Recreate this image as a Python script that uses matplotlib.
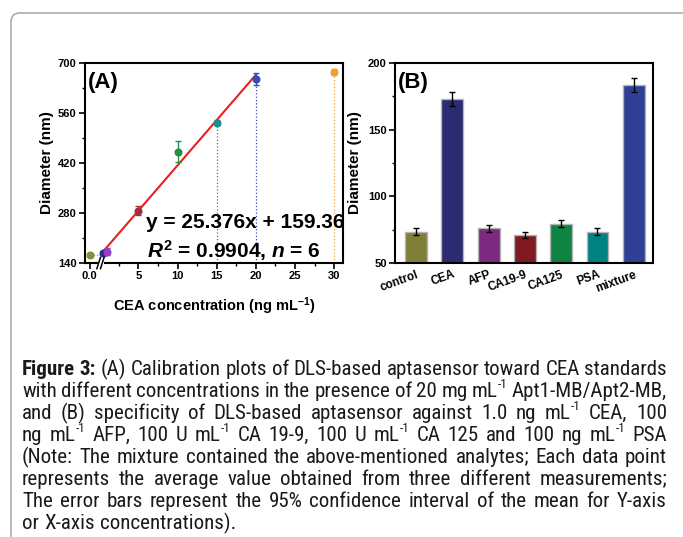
import matplotlib
matplotlib.use("Agg")
import matplotlib.pyplot as plt
from matplotlib import font_manager
from matplotlib.patches import FancyBboxPatch
from matplotlib.ticker import AutoMinorLocator, FixedLocator

# ---- panel A: calibration of DLS aptasensor ----
conc = [0.0, 0.5, 1.0, 5.0, 10.0, 15.0, 20.0, 30.0]          # ng/mL
diam = [163, 167, 172, 287, 452, 532, 655, 674]               # nm
diam_err = [4, 5, 10, 12, 30, 7, 18, 8]
pt_colors = ['#8c8c3a', '#2c2c8c', '#9b3cc0', '#a0303c',
             '#249042', '#1c9090', '#3a4cb4', '#f0a030']
slope, intercept = 25.376, 159.36
fit_from, fit_to = 0.3, 20
drop_lines = [15, 20, 30]          # concentrations with dotted guides
x_ticks = [0, 5, 10, 15, 20, 25, 30]
x_ticklabels = ['0.0', '5', '10', '15', '20', '25', '30']
BREAK_SHIFT = -1.2                 # blank drawn left of the axis break

# ---- panel B: specificity ----
analytes = ['control', 'CEA', 'AFP', 'CA19-9', 'CA125', 'PSA', 'mixture']
bar_vals = [73.5, 173, 76, 71, 79.5, 73.5, 183.5]
bar_err = [2.5, 5.2, 2.5, 2.5, 2.5, 2.5, 5.5]
bar_colors = ['#7f7f38', '#2b2b72', '#7b2a80', '#7f1a20',
              '#0f8442', '#008282', '#2f3f96']

# "^" marks a superscript inside a caption word
caption = [
    "Figure 3: (A) Calibration plots of DLS-based aptasensor toward CEA standards",
    "with different concentrations in the presence of 20 mg mL^-1 Apt1-MB/Apt2-MB,",
    "and (B) specificity of DLS-based aptasensor against 1.0 ng mL^-1 CEA, 100",
    "ng mL^-1 AFP, 100 U mL^-1 CA 19-9, 100 U mL^-1 CA 125 and 100 ng mL^-1 PSA",
    "(Note: The mixture contained the above-mentioned analytes; Each data point",
    "represents the average value obtained from three different measurements;",
    "The error bars represent the 95% confidence interval of the mean for Y-axis",
    "or X-axis concentrations).",
]

SUP = r'$^{\mathregular{-1}}$'
plt.rcParams['font.family'] = ['Liberation Sans', 'DejaVu Sans']
plt.rcParams['mathtext.fontset'] = 'custom'
plt.rcParams['mathtext.rm'] = 'Liberation Sans:bold'
plt.rcParams['mathtext.it'] = 'Liberation Sans:italic:bold'
plt.rcParams['mathtext.bf'] = 'Liberation Sans:bold'

W, H = 683, 537
fig = plt.figure(figsize=(W / 100, H / 100), dpi=100)

# outer frame of the page
frame = FancyBboxPatch((0.11, -1.0), 10, 5.24 + 1.0,
                       boxstyle="round,pad=0,rounding_size=0.09",
                       transform=fig.dpi_scale_trans, fc='none',
                       ec='#a6a6a6', lw=1.1)
fig.patches.append(frame)


def style_axes(ax):
    for s in ax.spines.values():
        s.set_linewidth(1.5)
    ax.tick_params(which='major', direction='out', length=4, width=1.2,
                   labelsize=8, pad=2)
    ax.tick_params(which='minor', direction='out', length=2.5, width=1)
    for lab in ax.get_xticklabels() + ax.get_yticklabels():
        lab.set_fontweight('bold')


# ---------------- panel A ----------------
axA = fig.add_axes([85 / W, 1 - 263 / H, 258 / W, 200 / H])
xdisp = [c + BREAK_SHIFT if c == 0 else c for c in conc]
for x, y, e, c in zip(xdisp, diam, diam_err, pt_colors):
    axA.errorbar(x, y, yerr=e, fmt='o', ms=4.8, color=c, ecolor=c,
                 elinewidth=1, capsize=2.5, capthick=1, zorder=3)
for xc in drop_lines:
    i = conc.index(xc)
    axA.vlines(xc, 140, diam[i], colors=pt_colors[i], linestyles=':', lw=0.9)
axA.hlines(diam[0], xdisp[0], 0.15, colors=pt_colors[0], linestyles=':', lw=0.9)
axA.plot([fit_from, fit_to],
         [slope * fit_from + intercept, slope * fit_to + intercept],
         color='#e8201e', lw=1.5, zorder=2)
axA.set_xlim(-1.81, 31.13)
axA.set_ylim(140, 700)
axA.set_yticks([140, 280, 420, 560, 700])
axA.yaxis.set_minor_locator(AutoMinorLocator(2))
axA.set_xticks([t + BREAK_SHIFT if t == 0 else t for t in x_ticks])
axA.set_xticklabels(x_ticklabels)
axA.xaxis.set_minor_locator(FixedLocator([2.5, 7.5, 12.5, 17.5, 22.5, 27.5]))
style_axes(axA)
axA.set_ylabel('Diameter (nm)', fontsize=11, fontweight='bold', labelpad=3)
axA.set_xlabel('CEA concentration (ng mL' + SUP + ')', fontsize=10.5,
               fontweight='bold', labelpad=10)

# axis break on the bottom spine
bx = 0.061
axA.add_patch(plt.Rectangle((bx - 0.012, -0.01), 0.024, 0.02,
                            transform=axA.transAxes, fc='white', ec='none',
                            clip_on=False, zorder=4))
for dx in (-0.008, 0.006):
    axA.plot([bx + dx - 0.007, bx + dx + 0.007], [-0.028, 0.028],
             transform=axA.transAxes, color='black', lw=1.1,
             clip_on=False, zorder=5)

axA.text(0.012, 0.955, '(A)', transform=axA.transAxes, fontsize=16,
         fontweight='bold', va='top', ha='left')
axA.text(146 / W, 1 - 222 / H, 'y = 25.376x + 159.36', transform=fig.transFigure,
         fontsize=15, fontweight='bold', va='center', ha='left')
axA.text(147 / W, 1 - 251 / H, r'$R^{\mathregular{2}}$ = 0.9904, $n$ = 6',
         transform=fig.transFigure, fontsize=15, fontweight='bold',
         va='center', ha='left')

# ---------------- panel B ----------------
axB = fig.add_axes([395 / W, 1 - 263 / H, 258 / W, 200 / H])
xs = range(len(analytes))
axB.bar(xs, bar_vals, width=0.6, bottom=0, color=bar_colors,
        edgecolor='#b4b4b4', linewidth=1.0, zorder=2)
axB.errorbar(xs, bar_vals, yerr=bar_err, fmt='none', ecolor='black',
             elinewidth=1, capsize=2.5, capthick=1, zorder=3)
axB.set_xlim(-0.58, 6.53)
axB.set_ylim(50, 200)
axB.set_yticks([50, 100, 150, 200])
axB.yaxis.set_minor_locator(AutoMinorLocator(2))
axB.set_xticks(list(xs))
axB.set_xticklabels(analytes, rotation=20, ha='right', rotation_mode='anchor')
style_axes(axB)
axB.tick_params(axis='x', which='major', length=0, labelsize=8.5, pad=4)
axB.set_ylabel('Diameter (nm)', fontsize=11, fontweight='bold', labelpad=4)
axB.text(0.012, 0.955, '(B)', transform=axB.transAxes, fontsize=16,
         fontweight='bold', va='top', ha='left')

# ---------------- caption (justified) ----------------
# look for a condensed sans face (the original uses Arial Narrow)
cap_family, cap_stretch = 'Liberation Sans', 'normal'
cands = []
for f in font_manager.fontManager.ttflist:
    nm = f.name
    st = f.stretch
    narrow = ('Narrow' in nm or 'Condensed' in nm or
              st in ('condensed', 'semi-condensed', 'extra-condensed'))
    if narrow and 'Mono' not in nm and 'Serif' not in nm:
        rank = 0 if 'Liberation' in nm else 1 if 'Arial' in nm else \
            2 if 'Roboto' in nm else 3 if 'Noto Sans' in nm else \
            4 if 'Open Sans' in nm else 5
        cands.append((rank, nm, st))
if cands:
    cands.sort()
    cap_family, cap_stretch = cands[0][1], cands[0][2]

renderer = fig.canvas.get_renderer()
x0, x1 = 22, 667
baselines = [375, 397, 419, 441, 463, 485, 507, 529]
fs = 13.5
px = 100 / 72


def make_word(word, y, bold):
    base, _, sup = word.partition('^')
    kw = dict(family=[cap_family, 'DejaVu Sans'], fontstretch=cap_stretch,
              fontweight='bold' if bold else 'normal', color='#1a1a1a',
              va='baseline', ha='left')
    parts = [(fig.text(0, y, base, fontsize=fs, **kw), 1.0, 0.0)]
    if sup:
        parts.append((fig.text(0, y, sup, fontsize=fs * 0.62, **kw), 0.62, 0.42))
    return parts


words_by_line = []
for n, line in enumerate(caption):
    y = 1 - baselines[n] / H
    words_by_line.append([make_word(w, y, n == 0 and k < 2)
                          for k, w in enumerate(line.split(' '))])


def word_width(parts):
    return sum(t.get_window_extent(renderer).width for t, _, _ in parts)


def set_size(size):
    for wl in words_by_line:
        for parts in wl:
            for t, scale, _ in parts:
                t.set_fontsize(size * scale)


# size the caption so the fullest line just fits with tight spaces
need = 0
for wl in words_by_line[:-1]:
    tot = sum(word_width(p) for p in wl)
    need = max(need, (tot + 0.2 * fs * px * (len(wl) - 1)) / (x1 - x0))
fs = min(fs / need, 15.5)
set_size(fs)

for n, wl in enumerate(words_by_line):
    widths = [word_width(p) for p in wl]
    if n < len(words_by_line) - 1:
        gap = (x1 - x0 - sum(widths)) / (len(wl) - 1)
    else:
        gap = 0.25 * fs * px
    x = x0
    for parts, w in zip(wl, widths):
        xx = x
        for t, scale, rise in parts:
            t.set_x(xx / W)
            t.set_y(t.get_position()[1] + rise * fs * px / H)
            xx += t.get_window_extent(renderer).width
        x += w + gap

fig.savefig('out.png', dpi=100)
